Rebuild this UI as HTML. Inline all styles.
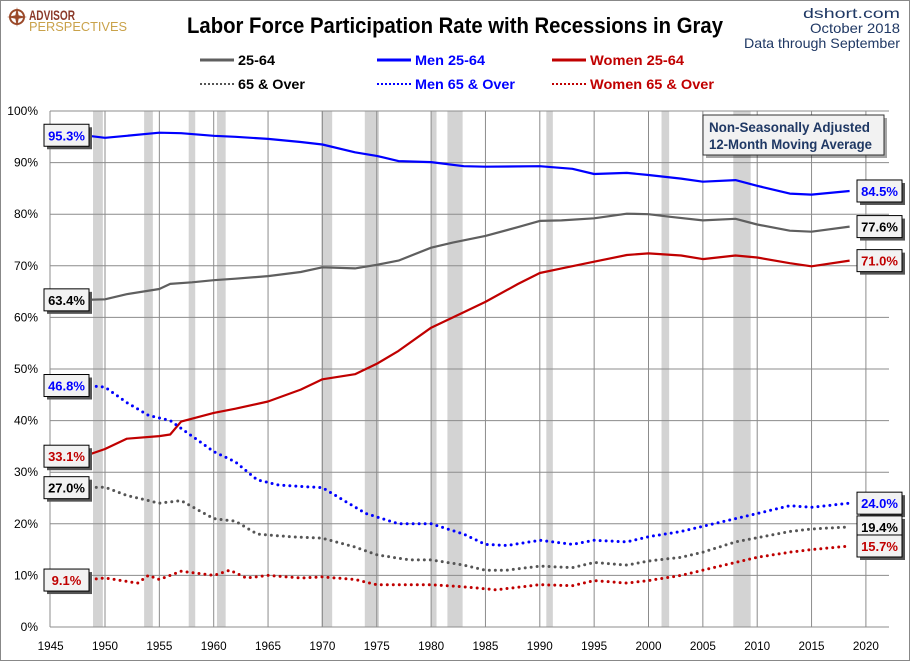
<!DOCTYPE html>
<html><head><meta charset="utf-8">
<style>
html,body{margin:0;padding:0;background:#fff;}
body{width:910px;height:661px;overflow:hidden;font-family:"Liberation Sans",sans-serif;}
svg text{font-family:"Liberation Sans",sans-serif;}
</style></head>
<body>
<svg id="chart" width="910" height="661" xmlns="http://www.w3.org/2000/svg">
<rect x="0.5" y="0.5" width="909" height="660" fill="#fff" stroke="#888"/>
<g>
<circle cx="17" cy="17" r="7" fill="none" stroke="#9b4a2a" stroke-width="2"/>
<path d="M17 7 L19 17 L17 27 L15 17Z M7 17 L17 15 L27 17 L17 19Z" fill="#9b4a2a"/>
<text x="29" y="20" font-size="14" font-weight="bold" fill="#8b3a2a" textLength="46" lengthAdjust="spacingAndGlyphs">ADVISOR</text>
<text x="29" y="31" font-size="13" fill="#c9a24a" textLength="98" lengthAdjust="spacingAndGlyphs">PERSPECTIVES</text>
</g>
<text x="187" y="33" font-size="22" font-weight="bold" fill="#000" textLength="536" lengthAdjust="spacingAndGlyphs">Labor Force Participation Rate with Recessions in Gray</text>
<text x="900" y="18" text-anchor="end" font-size="14" fill="#1f3864" textLength="97" lengthAdjust="spacingAndGlyphs">dshort.com</text>
<text x="900" y="33" text-anchor="end" font-size="14" fill="#1f3864" textLength="90" lengthAdjust="spacingAndGlyphs">October 2018</text>
<text x="900" y="48" text-anchor="end" font-size="14" fill="#1f3864" textLength="156" lengthAdjust="spacingAndGlyphs">Data through  September</text>
<g id="legend"></g>
<g id="plot"></g>
<g>
<rect x="703" y="115" width="181" height="40" fill="#000" opacity="0.35" transform="translate(3,3)"/>
<rect x="703" y="115" width="181" height="40" fill="#f2f2f2" stroke="#333"/>
<text x="709" y="132" font-size="14" font-weight="bold" fill="#1f3864" textLength="161" lengthAdjust="spacingAndGlyphs">Non-Seasonally Adjusted</text>
<text x="709" y="149" font-size="14" font-weight="bold" fill="#1f3864" textLength="163" lengthAdjust="spacingAndGlyphs">12-Month Moving Average</text>
</g>
</svg>
<script>
const recessions=[[1948.9,1949.8],[1953.6,1954.4],[1957.7,1958.3],[1960.3,1961.1],[1969.9,1970.9],[1973.9,1975.2],[1980.0,1980.5],[1981.5,1982.9],[1990.6,1991.2],[2001.2,2001.9],[2007.8,2009.4]];
const xTicks=[1945,1950,1955,1960,1965,1970,1975,1980,1985,1990,1995,2000,2005,2010,2015,2020];
const yTicks=[0,10,20,30,40,50,60,70,80,90,100];
const years1=[1948.1,1950,1952,1955,1956,1958,1960,1962,1965,1968,1970,1973,1975,1977,1980,1982,1985,1988,1990,1992,1995,1998,2000,2002,2005,2008,2010,2013,2015,2018.5];
const total2564=[63.4,63.5,64.5,65.5,66.5,66.8,67.2,67.5,68,68.8,69.7,69.5,70.2,71,73.5,74.5,75.8,77.5,78.7,78.8,79.2,80.1,80,79.5,78.8,79.1,78,76.8,76.6,77.6];
const years2=[1948.1,1950,1952,1955,1957,1960,1962,1965,1968,1970,1973,1975,1977,1980,1983,1985,1990,1993,1995,1998,2000,2003,2005,2008,2010,2013,2015,2018.5];
const men2564=[95.3,94.8,95.2,95.8,95.7,95.2,95,94.6,94,93.5,92,91.3,90.3,90.1,89.3,89.2,89.3,88.8,87.8,88,87.6,86.9,86.3,86.6,85.5,84,83.8,84.5];
const years3=[1948.1,1950,1952,1955,1956,1957,1960,1962,1965,1968,1970,1973,1975,1977,1980,1983,1985,1988,1990,1992,1995,1998,2000,2003,2005,2008,2010,2013,2015,2018.5];
const women2564=[33.1,34.5,36.5,37,37.3,39.8,41.5,42.3,43.7,46,48,49,51,53.5,58,61,63,66.5,68.6,69.5,70.8,72.1,72.4,72,71.3,72,71.6,70.5,69.9,71];
const years4=[1948.1,1950,1952,1955,1957,1960,1962,1964,1967,1970,1973,1975,1978,1980,1983,1985,1987,1990,1993,1995,1998,2000,2003,2005,2008,2010,2013,2015,2018.5];
const total65=[27,27.1,25.5,24,24.5,21,20.5,18,17.5,17.2,15.5,14,13,13,12,11,11,11.8,11.5,12.5,12,12.8,13.5,14.5,16.5,17.3,18.5,19,19.4];
const years5=[1948.1,1950,1952,1954,1956,1958,1960,1962,1964,1966,1970,1972,1974,1977,1980,1983,1985,1987,1990,1993,1995,1998,2000,2003,2005,2008,2010,2013,2015,2018.5];
const men65=[46.8,46.5,43.5,41,40,37,34,32,28.5,27.5,27,24.5,22,20,20,18,16,15.8,16.8,16,16.8,16.5,17.5,18.5,19.5,21,22,23.5,23.2,24];
const years6=[1948.1,1950,1953,1954,1955,1957,1960,1961.5,1963,1965,1968,1970,1973,1975,1980,1983,1986,1990,1993,1995,1998,2000,2003,2005,2008,2010,2013,2015,2018.5];
const women65=[9.1,9.5,8.5,10,9.2,10.8,10,11,9.5,10,9.5,9.7,9.2,8.2,8.2,7.8,7.2,8.2,8,9,8.5,9,10,11,12.5,13.5,14.5,15,15.7];

const NS='http://www.w3.org/2000/svg';
const L=50,R=889,T=111,B=627;
const xs=y=>105+(y-1950)*10.87;
const ys=v=>B-(v/100)*(B-T);
const plot=document.getElementById('plot');
function mk(tag,attrs,parent){const e=document.createElementNS(NS,tag);for(const k in attrs)e.setAttribute(k,attrs[k]);(parent||plot).appendChild(e);return e;}

const rg=mk('g',{});


recessions.forEach(r=>{const e=mk('rect',{x:xs(r[0]),y:T,width:xs(r[1])-xs(r[0]),height:B-T,fill:'#d3d3d3'},rg);

});

const gg=mk('g',{});


xTicks.forEach(t=>{const x=xs(t);if(x>L+2)mk('line',{x1:x,x2:x,y1:T,y2:B,stroke:'#8c8c8c','stroke-width':1},gg);
const tx=mk('text',{x:x,y:B+23,'text-anchor':'middle','font-size':12,fill:'#000',textLength:26,lengthAdjust:'spacingAndGlyphs'});tx.textContent=t;

});
yTicks.forEach(t=>{const y=ys(t);mk('line',{x1:L,x2:R,y1:y,y2:y,stroke:'#8c8c8c','stroke-width':1},gg);
const tx=mk('text',{x:L-12,y:y+4,'text-anchor':'end','font-size':12,fill:'#000'});tx.textContent=t+'%';

});
mk('line',{x1:L,x2:L,y1:T,y2:B,stroke:'#8c8c8c'},gg);

function series(xsArr,vals,color,dotted,name){
  const d=vals.map((v,i)=>(i?'L':'M')+xs(xsArr[i]).toFixed(1)+' '+ys(v).toFixed(1)).join(' ');
  const a={d:d,fill:'none',stroke:color,'stroke-width':dotted?3:2.2,'stroke-linejoin':'round'};
  if(dotted){a['stroke-dasharray']='0 6';a['stroke-linecap']='round';}
  const p=mk('path',a);
  
  
}
series(years1,total2564,'#5f5f5f',false,'line-25-64');
series(years2,men2564,'#0000ff',false,'line-men-25-64');
series(years3,women2564,'#c00000',false,'line-women-25-64');
series(years4,total65,'#555555',true,'line-65-over');
series(years5,men65,'#0000ff',true,'line-men-65-over');
series(years6,women65,'#c00000',true,'line-women-65-over');

function label(x,v,color,name){
  const g=mk('g',{});
  
  
  const y=ys(v)-11;
  mk('rect',{x:x+3,y:y+3,width:45,height:22,fill:'#555'},g);
  mk('rect',{x:x,y:y,width:45,height:22,fill:'#f2f2f2',stroke:'#000'},g);
  const t=mk('text',{x:x+22.5,y:y+16,'text-anchor':'middle','font-size':13,'font-weight':'bold',fill:color},g);
  t.textContent=v.toFixed(1)+'%';
}
label(44,men2564[0],'#0000ff','label-men-25-64-start');
label(44,total2564[0],'#000','label-25-64-start');
label(44,men65[0],'#0000ff','label-men-65-start');
label(44,women2564[0],'#c00000','label-women-25-64-start');
label(44,total65[0],'#000','label-65-start');
label(44,women65[0],'#c00000','label-women-65-start');
label(857,men2564[men2564.length-1],'#0000ff','label-men-25-64-end');
label(857,total2564[total2564.length-1],'#000','label-25-64-end');
label(857,women2564[women2564.length-1],'#c00000','label-women-25-64-end');
label(857,men65[men65.length-1],'#0000ff','label-men-65-end');
label(857,total65[total65.length-1],'#000','label-65-end');
label(857,women65[women65.length-1],'#c00000','label-women-65-end');

const lg=document.getElementById('legend');
const legendItems=[[200,65,'#5f5f5f',false,'25-64','#000',37],[377,65,'#0000ff',false,'Men 25-64','#0000ff',70],[552,65,'#c00000',false,'Women 25-64','#c00000',94],
[200,89,'#555',true,'65 & Over','#000',67],[377,89,'#0000ff',true,'Men 65 & Over','#0000ff',100],[552,89,'#c00000',true,'Women 65 & Over','#c00000',124]];
legendItems.forEach(it=>{
  const g=mk('g',{},lg);
  
  
  const a={x1:it[0],x2:it[0]+34,y1:it[1]-5,y2:it[1]-5,stroke:it[2],'stroke-width':it[3]?2:3};
  if(it[3]){a['stroke-dasharray']='2 2';}
  mk('line',a,g);
  const t=mk('text',{x:it[0]+38,y:it[1],'font-size':14,'font-weight':'bold',fill:it[5],textLength:it[6],lengthAdjust:'spacingAndGlyphs'},g);
  t.textContent=it[4];
});
</script>
</body></html>
